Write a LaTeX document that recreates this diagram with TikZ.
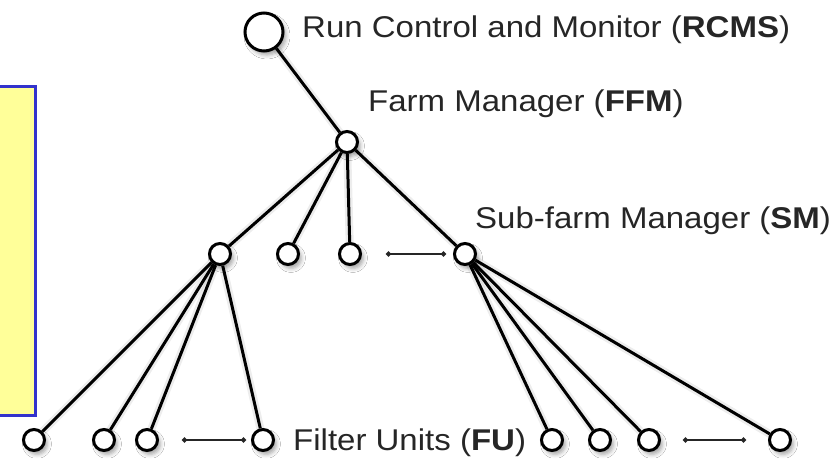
\documentclass[tikz,border=0pt]{standalone}
\usepackage{fontspec}
\setmainfont{Liberation Sans}
\usetikzlibrary{arrows.meta,shadows.blur}
\newcommand{\widetext}[1]{\scalebox{1.1}[1]{#1}}
\begin{document}
\begin{tikzpicture}[x=1pt,y={(0pt,-1pt)},
  unit/.style={circle,draw=black,line width=3pt,fill=white,inner sep=0pt,
    minimum size=#1,
    blur shadow={shadow xshift=3pt,shadow yshift=-4pt,shadow blur radius=4pt,shadow opacity=35}},
  unit/.default=22pt,
  link/.style={line width=3pt,black},
  linkshadow/.style={line width=8pt,black,opacity=0.07,shift={(4pt,-4pt)}},
  gap/.style={line width=1.8pt,{Circle[length=5pt]}-{Circle[length=5pt]},black!85},
  caption/.style={anchor=base west,font=\fontsize{30}{34}\selectfont,text=black!85,inner sep=0pt}
]
\useasboundingbox (0,0) rectangle (834,458);
\fill[white] (0,0) rectangle (834,458);

% legend panel at the left edge
\draw[draw={rgb,255:red,51;green,51;blue,204},line width=3pt,fill={rgb,255:red,255;green,255;blue,153}]
  (-5,86) rectangle (35,415);

% node positions
\coordinate (pR) at (264,32);
\coordinate (pF) at (347,142);
\coordinate (pS1) at (220,254);
\coordinate (pS2) at (288,254);
\coordinate (pS3) at (350,254);
\coordinate (pS4) at (465,254);
\coordinate (pU1) at (34,440);
\coordinate (pU2) at (104,440);
\coordinate (pU3) at (147,440);
\coordinate (pU4) at (263,440);
\coordinate (pU5) at (552,440);
\coordinate (pU6) at (600,440);
\coordinate (pU7) at (649,440);
\coordinate (pU8) at (780,440);

% soft shadows under the links
\foreach \a/\b in {pR/pF,pF/pS1,pF/pS2,pF/pS3,pF/pS4,
  pS1/pU1,pS1/pU2,pS1/pU3,pS1/pU4,pS4/pU5,pS4/pU6,pS4/pU7,pS4/pU8}
  \draw[linkshadow] (\a) -- (\b);

% nodes
\node[unit=38pt] (rcms) at (pR) {};
\node[unit=21pt] (ffm) at (pF) {};
\foreach \i in {1,...,4} \node[unit=21pt] (sm\i) at (pS\i) {};
\foreach \i in {1,...,8} \node[unit=21pt] (fu\i) at (pU\i) {};

% tree links
\draw[link] (rcms) -- (ffm);
\foreach \i in {1,...,4} \draw[link] (ffm) -- (sm\i);
\foreach \i in {1,...,4} \draw[link] (sm1) -- (fu\i);
\foreach \i in {5,...,8} \draw[link] (sm4) -- (fu\i);

% "and so on" markers
\coordinate (g1a) at (386,254);
\coordinate (g1b) at (446,254);
\coordinate (g2a) at (182,440);
\coordinate (g2b) at (246,440);
\coordinate (g3a) at (683,440);
\coordinate (g3b) at (746,440);
\draw[gap] (g1a) -- (g1b);
\draw[gap] (g2a) -- (g2b);
\draw[gap] (g3a) -- (g3b);

% labels
\node[caption] (tR) at (302,37) {\widetext{Run Control and Monitor (\textbf{RCMS})}};
\node[caption] (tF) at (368,111) {\widetext{Farm Manager (\textbf{FFM})}};
\node[caption] (tS) at (475,228) {\widetext{Sub-farm Manager (\textbf{SM})}};
\node[caption] (tU) at (293,450) {\widetext{Filter Units (\textbf{FU})}};
\end{tikzpicture}
\end{document}
